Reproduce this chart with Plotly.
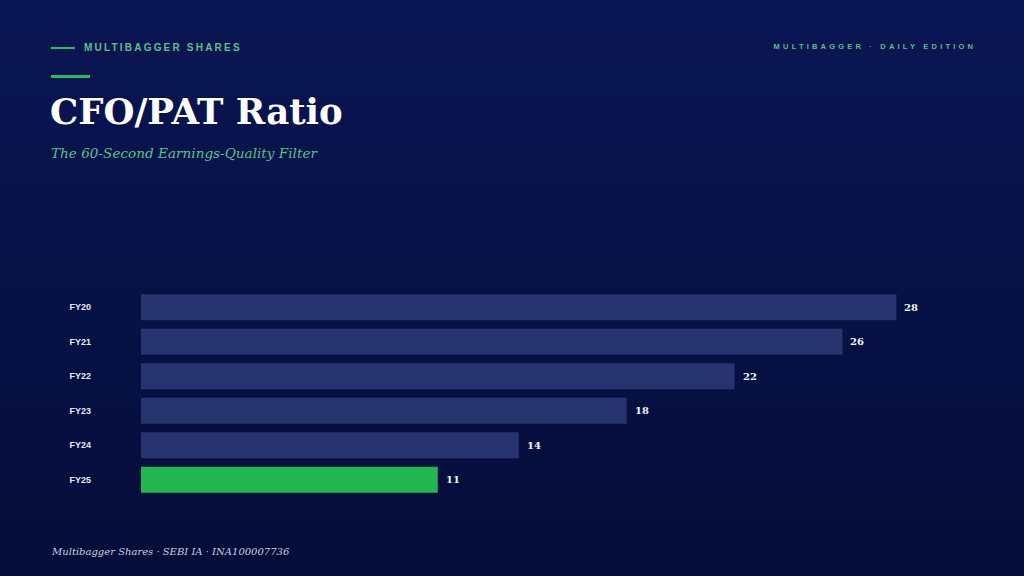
import plotly.graph_objects as go

categories = ["FY20", "FY21", "FY22", "FY23", "FY24", "FY25"]
values = [28, 26, 22, 18, 14, 11]
bar_colors = ["#283470", "#283470", "#283470", "#283470", "#283470", "#22b550"]

W, H = 1024, 576
L, R, T, B = 141, 52, 290, 79
PW, PH = W - L - R, H - T - B

def px(x):
    return (x - L) / PW

def py(y):
    return (H - B - y) / PH

fig = go.Figure()
fig.add_trace(go.Bar(
    x=values, y=categories, orientation="h",
    marker=dict(color=bar_colors, line=dict(width=0)),
    hoverinfo="skip",
))

shapes = []
# vertical background gradient
top = (10, 22, 84)
bot = (5, 13, 57)
n = 48
for i in range(n):
    f = i / (n - 1)
    c = tuple(round(top[k] + (bot[k] - top[k]) * f) for k in range(3))
    y0 = i * H / n
    y1 = (i + 1) * H / n + 1
    shapes.append(dict(type="rect", xref="paper", yref="paper", layer="below",
                       x0=px(0), x1=px(W), y0=py(y1), y1=py(y0),
                       fillcolor="rgb(%d,%d,%d)" % c, line=dict(width=0)))
# decorative lines
shapes.append(dict(type="line", xref="paper", yref="paper", x0=px(51), x1=px(75),
                   y0=py(48), y1=py(48), line=dict(color="#2fb864", width=2)))
shapes.append(dict(type="line", xref="paper", yref="paper", x0=px(51), x1=px(90),
                   y0=py(76.5), y1=py(76.5), line=dict(color="#2fb864", width=3)))

annotations = []
def ann(text, x, y, size, color, family, xanchor="left", yanchor="middle", align="left", weight="normal", style="normal"):
    annotations.append(dict(text=text, xref="paper", yref="paper", x=px(x), y=py(y),
                            xanchor=xanchor, yanchor=yanchor, align=align, showarrow=False,
                            font=dict(size=size, color=color, family=family, weight=weight, style=style)))

ann("MULTIBAGGER SHARES", 82, 47, 10, "#5cc08a", "Liberation Sans", weight="bold")
ann("MULTIBAGGER · DAILY EDITION", 978, 46, 7.5, "#5cc08a", "Liberation Sans", xanchor="right", align="right", weight="bold")
ann("CFO/PAT Ratio", 48, 111, 35.5, "#ffffff", "DejaVu Serif", weight="bold")
ann("The 60-Second Earnings-Quality Filter", 49, 153, 13.6, "#5cc08a", "DejaVu Serif", style="italic")
ann("Multibagger Shares · SEBI IA · INA100007736", 49, 551, 10, "#c9cde0", "DejaVu Serif", style="italic")

for c, v in zip(categories, values):
    annotations.append(dict(text=str(v), x=v, y=c, xref="x", yref="y", xanchor="left",
                            yanchor="middle", xshift=6, showarrow=False,
                            font=dict(size=10, color="#f2f3f8", family="DejaVu Serif", weight="bold")))

fig.update_layout(
    width=W, height=H,
    margin=dict(l=L, r=R, t=T, b=B, pad=0),
    paper_bgcolor="#070f3e",
    plot_bgcolor="rgba(0,0,0,0)",
    showlegend=False,
    bargap=0.25,
    shapes=shapes,
    annotations=annotations,
    xaxis=dict(range=[0, 30.8], visible=False, fixedrange=True),
    yaxis=dict(categoryorder="array", categoryarray=categories, autorange="reversed",
               showgrid=False, zeroline=False, showline=False, ticks="",
               ticklabelstandoff=49,
               tickfont=dict(size=9, color="#e6e8f2", family="Liberation Sans", weight="bold"),
               fixedrange=True),
)

post = """
document.body.style.margin = '0';
document.body.style.overflow = 'hidden';
document.body.style.background = '#070f3e';
document.querySelectorAll('text.annotation-text').forEach(function(t){
  var s = t.getAttribute('data-unformatted') || t.textContent;
  if (s === 'MULTIBAGGER SHARES') { t.style.letterSpacing = '2.2px'; }
  if (s.indexOf('DAILY EDITION') >= 0) { t.style.letterSpacing = '3.2px'; }
});
"""

fig.write_html("out.html", config={"displayModeBar": False, "staticPlot": True}, post_script=post)
